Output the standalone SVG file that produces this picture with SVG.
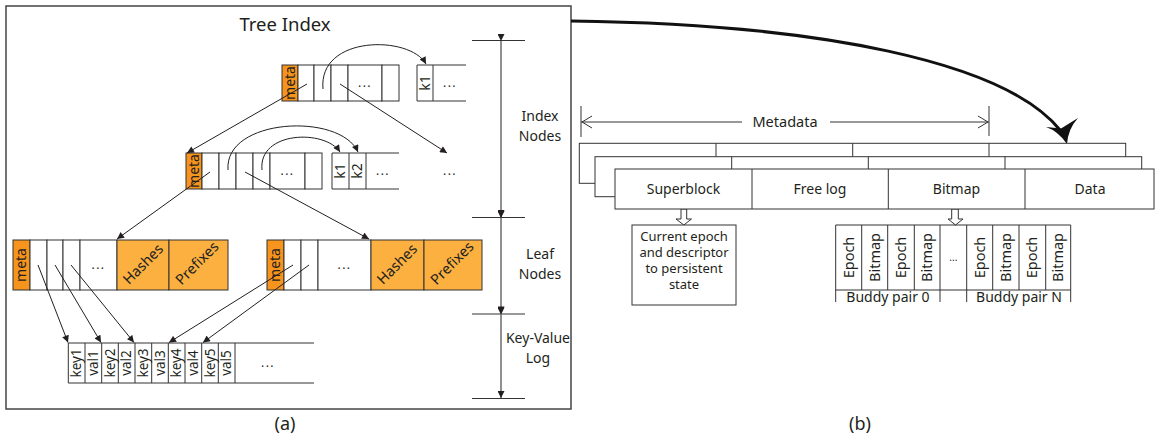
<svg xmlns="http://www.w3.org/2000/svg" width="1155" height="438" viewBox="0 0 1155 438">
<defs>
<style>
.c{fill:#fff;stroke:#333;stroke-width:1}
.m{fill:#F7941D;stroke:#333;stroke-width:1}
.h{fill:#FBB040;stroke:#333;stroke-width:1}
.ln{stroke:#333;stroke-width:1;fill:none}
.t{font-family:"Noto Sans",sans-serif;fill:#231F20;font-size:14px}
.mid{text-anchor:middle}
.kv{font-size:13.5px}
.dots{font-size:12px;letter-spacing:1.5px}
.conn{stroke:#231F20;stroke-width:1;fill:none}
</style>
<marker id="ah" viewBox="0 0 10 10" refX="10" refY="5" markerWidth="8" markerHeight="7" markerUnits="userSpaceOnUse" orient="auto">
<path d="M0,0 L10,5 L0,10 Z" fill="#231F20"/>
</marker>
</defs>
<rect x="0" y="0" width="1155" height="438" fill="#fff"/>

<g id="frame-a">
<rect x="6" y="6" width="565" height="403" fill="none" stroke="#444" stroke-width="1.5"/>
<text class="t mid" x="285" y="31" style="font-size:18.5px">Tree Index</text>
<text class="t mid" x="285" y="430" style="font-size:18px">(a)</text>
</g>

<g id="index-node-1">
<rect class="m" x="282" y="65" width="16" height="36"/>
<rect class="c" x="298" y="65" width="16" height="36"/>
<rect class="c" x="314" y="65" width="17" height="36"/>
<rect class="c" x="331" y="65" width="17" height="36"/>
<rect class="c" x="348" y="65" width="34" height="36"/>
<rect class="c" x="382" y="65" width="17" height="36"/>
<text class="t mid" transform="translate(290,83) rotate(-90)" dy="0.35em">meta</text>
<text class="t mid dots" x="365" y="87">...</text>
<path class="ln" d="M466,65 H417 V101 H466 M433,65 V101"/>
<text class="t mid" transform="translate(425,83) rotate(-90)" dy="0.35em">k1</text>
<text class="t mid dots" x="450" y="87">...</text>
</g>

<g id="index-node-2">
<rect class="m" x="186" y="153" width="16" height="36"/>
<rect class="c" x="202" y="153" width="17" height="36"/>
<rect class="c" x="219" y="153" width="17" height="36"/>
<rect class="c" x="236" y="153" width="17" height="36"/>
<rect class="c" x="253" y="153" width="17" height="36"/>
<rect class="c" x="270" y="153" width="35" height="36"/>
<rect class="c" x="305" y="153" width="17" height="36"/>
<text class="t mid" transform="translate(194,171) rotate(-90)" dy="0.35em">meta</text>
<text class="t mid dots" x="287.5" y="175">...</text>
<path class="ln" d="M399,153 H332 V189 H399 M349,153 V189 M366,153 V189"/>
<text class="t mid" transform="translate(340.5,171) rotate(-90)" dy="0.35em">k1</text>
<text class="t mid" transform="translate(357.5,171) rotate(-90)" dy="0.35em">k2</text>
<text class="t mid dots" x="383" y="175">...</text>
<text class="t mid dots" x="450" y="175">...</text>
</g>

<g id="leaf-node-1">
<rect class="m" x="13" y="240" width="17" height="50"/>
<rect class="c" x="30" y="240" width="17" height="50"/>
<rect class="c" x="47" y="240" width="16" height="50"/>
<rect class="c" x="63" y="240" width="17" height="50"/>
<rect class="c" x="80" y="240" width="37" height="50"/>
<rect class="h" x="117" y="240" width="52" height="50"/>
<rect class="h" x="169" y="240" width="59" height="50"/>
<text class="t mid" transform="translate(21.5,265) rotate(-90)" dy="0.35em">meta</text>
<text class="t mid dots" x="98.5" y="269">...</text>
<text class="t mid" transform="translate(143,264) rotate(-45)" dy="0.35em" style="font-size:14.5px">Hashes</text>
<text class="t mid" transform="translate(197,263) rotate(-45)" dy="0.35em" style="font-size:14.5px">Prefixes</text>
</g>

<g id="leaf-node-2">
<rect class="m" x="267" y="240" width="17" height="50"/>
<rect class="c" x="284" y="240" width="17" height="50"/>
<rect class="c" x="301" y="240" width="17" height="50"/>
<rect class="c" x="318" y="240" width="53" height="50"/>
<rect class="h" x="371" y="240" width="53" height="50"/>
<rect class="h" x="424" y="240" width="58" height="50"/>
<text class="t mid" transform="translate(275.5,265) rotate(-90)" dy="0.35em">meta</text>
<text class="t mid dots" x="344.5" y="269">...</text>
<text class="t mid" transform="translate(397,264) rotate(-45)" dy="0.35em" style="font-size:14.5px">Hashes</text>
<text class="t mid" transform="translate(452,263) rotate(-45)" dy="0.35em" style="font-size:14.5px">Prefixes</text>
</g>

<g id="kv-log">
<path class="ln" d="M314,343 H68.3 V383 H314 M85,343 V383 M101.7,343 V383 M118.3,343 V383 M135,343 V383 M151.7,343 V383 M168.3,343 V383 M185,343 V383 M201.7,343 V383 M218.3,343 V383 M235,343 V383"/>
<text class="t mid kv" transform="translate(76.7,363) rotate(-90)" dy="0.35em">key1</text>
<text class="t mid kv" transform="translate(93.3,363) rotate(-90)" dy="0.35em">val1</text>
<text class="t mid kv" transform="translate(110,363) rotate(-90)" dy="0.35em">key2</text>
<text class="t mid kv" transform="translate(126.7,363) rotate(-90)" dy="0.35em">val2</text>
<text class="t mid kv" transform="translate(143.3,363) rotate(-90)" dy="0.35em">key3</text>
<text class="t mid kv" transform="translate(160,363) rotate(-90)" dy="0.35em">val3</text>
<text class="t mid kv" transform="translate(176.7,363) rotate(-90)" dy="0.35em">key4</text>
<text class="t mid kv" transform="translate(193.3,363) rotate(-90)" dy="0.35em">val4</text>
<text class="t mid kv" transform="translate(210,363) rotate(-90)" dy="0.35em">key5</text>
<text class="t mid kv" transform="translate(226.7,363) rotate(-90)" dy="0.35em">val5</text>
<text class="t mid dots" x="268" y="367">...</text>
</g>

<g id="levels">
<path class="ln" d="M472,40.5 H525 M472,217.5 H525 M472,314 H525 M472,398.5 H525"/>
<text class="t mid" x="540" y="121">Index</text>
<text class="t mid" x="540" y="141">Nodes</text>
<text class="t mid" x="540" y="259">Leaf</text>
<text class="t mid" x="540" y="279">Nodes</text>
<text class="t mid" x="538" y="343">Key-Value</text>
<text class="t mid" x="538" y="363">Log</text>
</g>

<g id="connectors">
<line class="conn" x1="501" y1="41" x2="501" y2="217" marker-start="url(#ah)" marker-end="url(#ah)"/>
<line class="conn" x1="501" y1="218" x2="501" y2="313.5" marker-start="url(#ah)" marker-end="url(#ah)"/>
<line class="conn" x1="501" y1="314.5" x2="501" y2="398" marker-start="url(#ah)" marker-end="url(#ah)"/>
<path class="conn" d="M323,89 C318,35 410,35 426,64" marker-end="url(#ah)"/>
<line class="conn" x1="307" y1="84" x2="187" y2="153" marker-end="url(#ah)"/>
<line class="conn" x1="340" y1="84" x2="447" y2="153" marker-end="url(#ah)"/>
<path class="conn" d="M228,170 C224,118 340,112 358,152" marker-end="url(#ah)"/>
<path class="conn" d="M262,170 C258,131 325,129 340,152" marker-end="url(#ah)"/>
<line class="conn" x1="210" y1="172" x2="117" y2="239" marker-end="url(#ah)"/>
<line class="conn" x1="245" y1="172" x2="369" y2="239" marker-end="url(#ah)"/>
<line class="conn" x1="38" y1="265" x2="68" y2="342.5" marker-end="url(#ah)"/>
<line class="conn" x1="55" y1="265" x2="101" y2="342.5" marker-end="url(#ah)"/>
<line class="conn" x1="71" y1="265" x2="134" y2="342.5" marker-end="url(#ah)"/>
<line class="conn" x1="293" y1="265" x2="169" y2="342.5" marker-end="url(#ah)"/>
<line class="conn" x1="309" y1="265" x2="203" y2="342.5" marker-end="url(#ah)"/>
<path d="M571,21 C820,24 1005,62 1060,130" fill="none" stroke="#111" stroke-width="3"/>
<path d="M1067,144 Q1058,131 1046,127 L1061,128.5 L1078,118 Q1068,129 1067,144 Z" fill="#111"/>
<path class="ln" d="M581,106 V137 M989,106 V136 M581,122 H742 M830,122 H989 M592,116 L582,122 L592,128 M978,116 L988,122 L978,128"/>
<polygon points="681,209 681,219 676,219 683.8,225 691.5,219 686.7,219 686.7,209" fill="#fff" stroke="#333" stroke-width="1"/>
<polygon points="951.7,209 951.7,219 948,219 955.5,225 963,219 958.3,219 958.3,209" fill="#fff" stroke="#333" stroke-width="1"/>
</g>

<text class="t mid" x="785" y="127" style="font-size:14.5px">Metadata</text>

<g id="layer-back">
<rect class="c" x="579.3" y="143.3" width="546.4" height="40"/>
<path class="ln" d="M716,143.3 V183 M852.7,143.3 V183 M989,143.3 V183"/>
</g>
<g id="layer-middle">
<rect class="c" x="595" y="156.7" width="546.7" height="40"/>
<path class="ln" d="M731.7,156.7 V196 M868.3,156.7 V196 M1005,156.7 V196"/>
</g>
<g id="layer-front">
<rect class="c" x="615" y="169" width="539" height="40"/>
<path class="ln" d="M752,169 V209 M888.3,169 V209 M1025,169 V209"/>
<text class="t mid" x="683.5" y="194">Superblock</text>
<text class="t mid" x="820" y="194">Free log</text>
<text class="t mid" x="956.5" y="194">Bitmap</text>
<text class="t mid" x="1090" y="194">Data</text>
</g>

<g id="superblock-detail">
<rect class="c" x="632" y="225" width="104" height="80"/>
<text class="t mid" x="684" y="241" style="font-size:13px">Current epoch</text>
<text class="t mid" x="684" y="257" style="font-size:13px">and descriptor</text>
<text class="t mid" x="684" y="273" style="font-size:13px">to persistent</text>
<text class="t mid" x="684" y="289" style="font-size:13px">state</text>
</g>

<g id="bitmap-detail">
<path class="ln" d="M835.7,225 H1070.7 V290 H835.7 Z M861.7,225 V290 M887.7,225 V290 M914.3,225 V290 M940,225 V290 M966.7,225 V290 M992.7,225 V290 M1019,225 V290 M1045.7,225 V290"/>
<text class="t mid" transform="translate(848.7,257.5) rotate(-90)" dy="0.35em" style="font-size:14.5px">Epoch</text>
<text class="t mid" transform="translate(874.7,257.5) rotate(-90)" dy="0.35em" style="font-size:14.5px">Bitmap</text>
<text class="t mid" transform="translate(901,257.5) rotate(-90)" dy="0.35em" style="font-size:14.5px">Epoch</text>
<text class="t mid" transform="translate(927.2,257.5) rotate(-90)" dy="0.35em" style="font-size:14.5px">Bitmap</text>
<text class="t mid" x="953.3" y="261" style="font-size:10px">...</text>
<text class="t mid" transform="translate(979.7,257.5) rotate(-90)" dy="0.35em" style="font-size:14.5px">Epoch</text>
<text class="t mid" transform="translate(1005.8,257.5) rotate(-90)" dy="0.35em" style="font-size:14.5px">Bitmap</text>
<text class="t mid" transform="translate(1032.3,257.5) rotate(-90)" dy="0.35em" style="font-size:14.5px">Epoch</text>
<text class="t mid" transform="translate(1058.2,257.5) rotate(-90)" dy="0.35em" style="font-size:14.5px">Bitmap</text>
<path class="ln" d="M835.7,290 V302 M940,290 V302 M966.7,290 V302 M1070.7,290 V302"/>
<text class="t mid" x="888" y="302">Buddy pair 0</text>
<text class="t mid" x="1019" y="302">Buddy pair N</text>
</g>

<text class="t mid" x="860" y="430" style="font-size:18px">(b)</text>
</svg>
